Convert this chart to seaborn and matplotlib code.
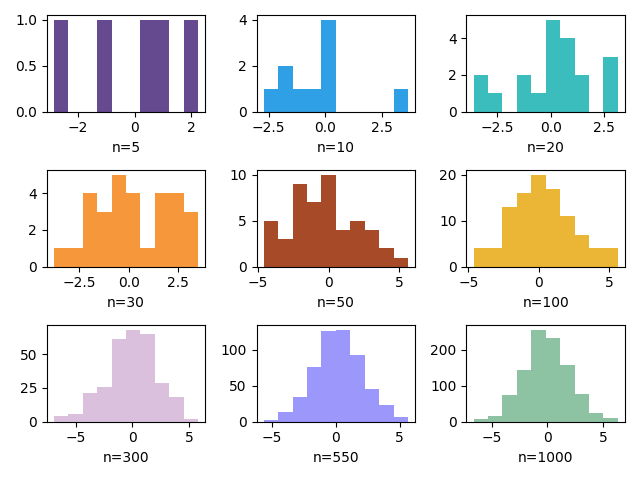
import matplotlib
matplotlib.use("Agg")
import matplotlib.pyplot as plt
import seaborn as sns
import numpy as np

# sample sizes shown under each panel
sizes = [5, 10, 20, 30, 50, 100, 300, 550, 1000]

# histogram range (min, max) of each sample
bin_lo = [-2.84, -2.72, -3.60, -3.79, -4.60, -4.64, -6.90, -5.66, -6.64]
bin_hi = [2.24, 3.66, 3.13, 3.53, 5.61, 5.59, 5.81, 5.66, 6.33]

# counts in the 10 bins of each histogram
counts_5 = [1, 0, 0, 1, 0, 0, 1, 1, 0, 1]
counts_10 = [1, 2, 1, 1, 4, 0, 0, 0, 0, 1]
counts_20 = [2, 1, 0, 2, 1, 5, 4, 2, 0, 3]
counts_30 = [1, 1, 4, 3, 5, 4, 1, 4, 4, 3]
counts_50 = [5, 3, 9, 7, 10, 4, 5, 4, 2, 1]
counts_100 = [4, 4, 13, 16, 20, 17, 11, 7, 4, 4]
counts_300 = [4, 6, 21, 26, 61, 68, 65, 29, 18, 2]
counts_550 = [3, 14, 34, 76, 126, 128, 93, 46, 23, 7]
counts_1000 = [8, 17, 75, 144, 255, 233, 158, 78, 23, 9]

all_counts = [counts_5, counts_10, counts_20, counts_30, counts_50,
              counts_100, counts_300, counts_550, counts_1000]

colors = ["#654a8f", "#2f9fe6", "#3cbdbd", "#f5973a", "#a64a27",
          "#ebb535", "#dbc0de", "#9c97fa", "#8dc3a3"]

fig, axes = plt.subplots(3, 3, figsize=(6.4, 4.8), dpi=100)

for ax, n, lo, hi, cnt, col in zip(axes.flat, sizes, bin_lo, bin_hi, all_counts, colors):
    edges = np.linspace(lo, hi, len(cnt) + 1)
    centers = (edges[:-1] + edges[1:]) / 2
    sns.histplot(x=centers, weights=np.asarray(cnt, dtype=float),
                 bins=len(cnt), binrange=(lo, hi), ax=ax,
                 color=col, alpha=1, linewidth=0, edgecolor="none")
    ax.set_xlabel(f"n={n}")
    ax.set_ylabel("")

plt.tight_layout()
plt.savefig("out.png", dpi=100)
